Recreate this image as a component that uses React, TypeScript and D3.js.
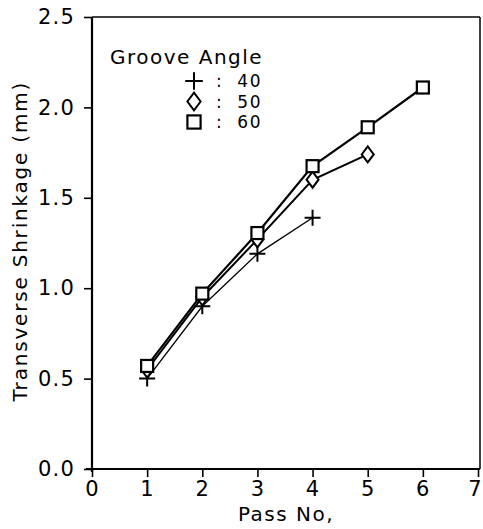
import { useEffect, useRef } from 'react';
import * as d3 from 'd3';

// pass numbers and shrinkage (mm) for each groove angle
const passes40 = [1, 2, 3, 4];
const shrink40 = [0.5, 0.9, 1.19, 1.39];
const passes50 = [1, 2, 3, 4, 5];
const shrink50 = [0.55, 0.95, 1.27, 1.6, 1.74];
const passes60 = [1, 2, 3, 4, 5, 6];
const shrink60 = [0.57, 0.97, 1.305, 1.675, 1.89, 2.11];

const xTicks = [0, 1, 2, 3, 4, 5, 6, 7];
const yTicks = [0, 0.5, 1.0, 1.5, 2.0, 2.5];
const legendLabels = ['40', '50', '60'];

const FONT = '"DejaVu Sans", sans-serif';

function App() {
  const svgRef = useRef<SVGSVGElement | null>(null);

  useEffect(() => {
    const W = 483;
    const H = 529;
    const margin = { top: 17, right: 5, bottom: 60, left: 92 };
    const height = H - margin.top - margin.bottom;

    const root = d3.select(svgRef.current);
    root.selectAll('*').remove();
    root.attr('width', W).attr('height', H).attr('viewBox', `0 0 ${W} ${H}`);
    root.append('rect').attr('width', W).attr('height', H).attr('fill', '#fff');

    const svg = root.append('g').attr('transform', `translate(${margin.left},${margin.top})`);

    const x = d3.scaleLinear().domain([0, 7]).range([0, 386]);
    const y = d3.scaleLinear().domain([0, 2.5]).range([height, 0]);

    // frame: top and right thin
    svg.append('line').attr('x1', 0).attr('x2', 388).attr('y1', 0).attr('y2', 0)
      .attr('stroke', '#000').attr('stroke-width', 1.5);
    svg.append('line').attr('x1', 388).attr('x2', 388).attr('y1', 0).attr('y2', height)
      .attr('stroke', '#000').attr('stroke-width', 1.5);

    const xAxis = svg.append('g').attr('transform', `translate(0,${height})`)
      .call(d3.axisBottom(x).tickValues(xTicks).tickSize(8).tickSizeOuter(0).tickPadding(4).tickFormat(d3.format('d')));
    const yAxis = svg.append('g')
      .call(d3.axisLeft(y).tickValues(yTicks).tickSize(8).tickSizeOuter(0).tickPadding(9).tickFormat(d3.format('.1f')));

    [xAxis, yAxis].forEach(a => {
      a.select('.domain').attr('stroke-width', 2.2);
      a.selectAll('.tick line').attr('stroke-width', 1.6);
      a.selectAll('.tick text').attr('font-family', FONT).attr('font-size', 21)
        .attr('letter-spacing', 1.2).attr('fill', '#000');
    });
    xAxis.selectAll<SVGTextElement, number>('.tick text').attr('dx', d => (d === 7 ? -3 : 0));
    yAxis.select('.domain').attr('d', `M0,${height + 3}V0`);
    xAxis.select('.domain').attr('d', `M-6,0H388`);

    // axis titles
    root.append('text').attr('x', 286).attr('y', 521)
      .attr('text-anchor', 'middle').attr('font-family', FONT).attr('font-size', 20)
      .attr('letter-spacing', 1.5).text('Pass No,');
    root.append('text').attr('transform', `translate(27,${margin.top + y(1.26)}) rotate(-90)`)
      .attr('text-anchor', 'middle').attr('font-family', FONT).attr('font-size', 20)
      .attr('letter-spacing', 1.8).text('Transverse Shrinkage (mm)');

    const line = d3.line<[number, number]>().x(d => x(d[0])).y(d => y(d[1]));
    const series = [
      { px: passes40, vals: shrink40, w: 1.3, marker: 'plus' },
      { px: passes50, vals: shrink50, w: 2, marker: 'diamond' },
      { px: passes60, vals: shrink60, w: 2.2, marker: 'square' },
    ];

    const drawMarker = (g: any, kind: string, cx: number, cy: number, s = 1) => {
      if (kind === 'plus') {
        g.append('path').attr('d', `M${cx - 8 * s},${cy}H${cx + 8 * s}M${cx},${cy - 8 * s}V${cy + 8 * s}`)
          .attr('stroke', '#000').attr('stroke-width', 2).attr('fill', 'none');
      } else if (kind === 'diamond') {
        g.append('path').attr('d', `M${cx},${cy - 8 * s}L${cx + 6 * s},${cy}L${cx},${cy + 8 * s}L${cx - 6 * s},${cy}Z`)
          .attr('stroke', '#000').attr('stroke-width', 2).attr('fill', '#fff');
      } else {
        g.append('rect').attr('x', cx - 6 * s).attr('y', cy - 6 * s).attr('width', 12 * s).attr('height', 12 * s)
          .attr('stroke', '#000').attr('stroke-width', 2.2).attr('fill', '#fff');
      }
    };

    series.forEach(s => {
      const pts = s.px.map((p, i) => [p, s.vals[i]] as [number, number]);
      svg.append('path').datum(pts).attr('d', line).attr('fill', 'none')
        .attr('stroke', '#000').attr('stroke-width', s.w);
    });
    series.forEach(s => {
      const g = svg.append('g');
      s.px.forEach((p, i) => drawMarker(g, s.marker, x(p), y(s.vals[i])));
    });

    // legend
    const lg = root.append('g');
    lg.append('text').attr('x', 110).attr('y', 64).attr('font-family', FONT).attr('font-size', 20)
      .attr('letter-spacing', 1.5).text('Groove Angle');
    ['plus', 'diamond', 'square'].forEach((k, i) => {
      const cy = 81 + i * 20.5;
      drawMarker(lg, k, 194, cy, 1.1);
      lg.append('text').attr('x', 216).attr('y', cy + 6).attr('font-family', FONT).attr('font-size', 17)
        .attr('letter-spacing', 1.6).attr('xml:space', 'preserve').text(`:  ${legendLabels[i]}`);
    });
  }, []);

  return <svg ref={svgRef} style={{ position: 'absolute', left: 0, top: 0 }} />;
}

export default App;
